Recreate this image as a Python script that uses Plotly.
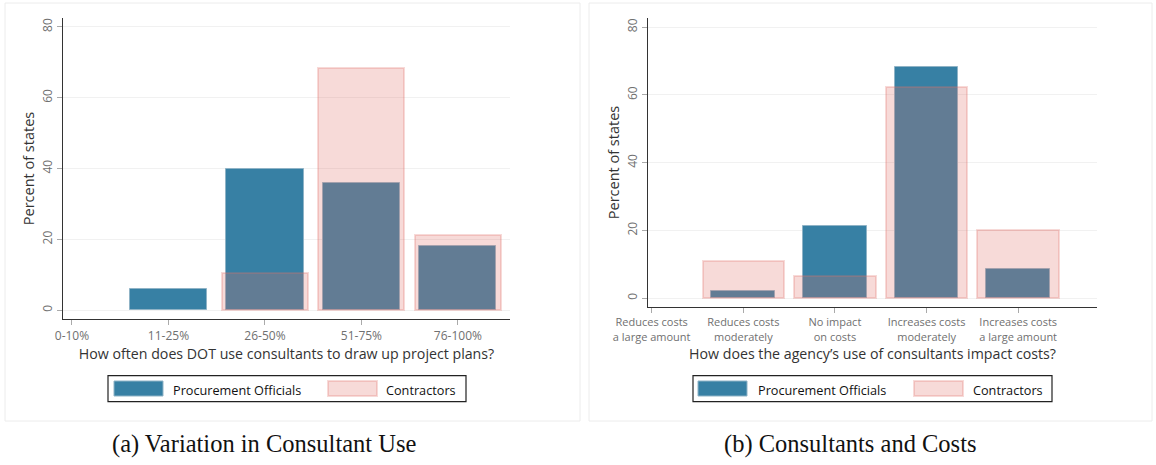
import plotly.graph_objects as go

# ---------------- data ----------------
use_categories = ["0-10%", "11-25%", "26-50%", "51-75%", "76-100%"]
use_officials = [0, 6, 40, 36, 18]
use_contractors = [0, 0, 10.5, 68.4, 21.1]

cost_categories = ["Reduces costs<br>a large amount", "Reduces costs<br>moderately",
                   "No impact<br>on costs", "Increases costs<br>moderately",
                   "Increases costs<br>a large amount"]
cost_officials = [0, 2.1, 21.3, 68.1, 8.5]
cost_contractors = [0, 11.0, 6.6, 62.2, 20.0]

y_ticks = [0, 20, 40, 60, 80]
series_names = ["Procurement Officials", "Contractors"]
captions = ["(a) Variation in Consultant Use", "(b) Consultants and Costs"]
x_titles = ["How often does DOT use consultants to draw up project plans?",
            "How does the agency’s use of consultants impact costs?"]

# ---------------- style ----------------
W, H = 1156, 465
BLUE = "#3780a4"
BLUE_EDGE = "#8fb3c6"
PINK = "rgba(224,113,105,0.26)"
FONT = "Open Sans"
TICK_C = "#707070"
TITLE_C = "#333333"


def px(x):
    return x / W


def py(y):
    return 1 - y / H


def edge(vals, w):
    return [w if v > 0 else 0 for v in vals]


fig = go.Figure()

xs = list(range(len(use_categories)))
fig.add_trace(go.Bar(x=xs, y=use_officials, width=0.8, name=series_names[0],
                     marker=dict(color=BLUE, line=dict(color=BLUE_EDGE, width=edge(use_officials, 1))),
                     xaxis="x", yaxis="y", showlegend=False))
fig.add_trace(go.Bar(x=xs, y=use_contractors, width=0.89, name=series_names[1],
                     marker=dict(color=PINK, line=dict(color=PINK, width=edge(use_contractors, 2))),
                     xaxis="x", yaxis="y", showlegend=False))
xs2 = list(range(len(cost_categories)))
fig.add_trace(go.Bar(x=xs2, y=cost_officials, width=0.695, name=series_names[0],
                     marker=dict(color=BLUE, line=dict(color=BLUE_EDGE, width=edge(cost_officials, 1))),
                     xaxis="x2", yaxis="y2", showlegend=False))
fig.add_trace(go.Bar(x=xs2, y=cost_contractors, width=0.89, name=series_names[1],
                     marker=dict(color=PINK, line=dict(color=PINK, width=edge(cost_contractors, 2))),
                     xaxis="x2", yaxis="y2", showlegend=False))

common_x = dict(showline=True, linecolor="#333333", linewidth=1.3, ticks="outside",
                ticklen=5, tickcolor="#aaaaaa", showgrid=False, zeroline=False,
                automargin=False,
                title_font=dict(family=FONT, size=14.2, color=TITLE_C))
common_y = dict(showline=True, linecolor="#333333", linewidth=1.3, ticks="outside",
                ticklen=5, tickcolor="#aaaaaa", showgrid=True, gridcolor="#f1f1f1",
                zeroline=False, tickvals=y_ticks, tickangle=-90, automargin=False,
                tickfont=dict(family=FONT, size=12, color=TICK_C),
                title=dict(text="Percent of states", standoff=0,
                           font=dict(family=FONT, size=14.5, color=TITLE_C)))

fig.update_layout(
    width=W, height=H, autosize=False,
    margin=dict(l=0, r=0, t=0, b=0, autoexpand=False),
    paper_bgcolor="white", plot_bgcolor="white",
    barmode="overlay", bargap=0,
    xaxis=dict(domain=[px(63), px(510)], range=[-0.093, 4.54], tickvals=xs,
               ticktext=use_categories, title=dict(text=x_titles[0], standoff=2),
               tickfont=dict(family=FONT, size=12, color=TICK_C),
               anchor="y", **common_x),
    yaxis=dict(domain=[py(319), py(18)], range=[-2.5, 82.5], anchor="x", **common_y),
    xaxis2=dict(domain=[px(648), px(1097)], range=[-0.04, 4.86], tickvals=xs2,
                ticktext=cost_categories, title=dict(text=x_titles[1], standoff=0),
                tickfont=dict(family=FONT, size=11, color=TICK_C),
                anchor="y2", **common_x),
    yaxis2=dict(domain=[py(307), py(18)], range=[-2.6, 82.7], anchor="x2", **common_y),
)

shapes = []
annotations = []
for (x0, x1) in [(5, 580), (589, 1152)]:
    shapes.append(dict(type="rect", xref="paper", yref="paper", x0=px(x0), x1=px(x1),
                       y0=py(421), y1=py(3), line=dict(color="#ececec", width=1),
                       fillcolor="rgba(0,0,0,0)", layer="below"))

legends = [
    dict(box=(108, 466), sw1=(114, 163), t1=171, sw2=(328, 377), t2=384),
    dict(box=(693, 1052), sw1=(698, 747), t1=756, sw2=(914, 963), t2=971),
]
for lg in legends:
    shapes.append(dict(type="rect", xref="paper", yref="paper", x0=px(lg["box"][0]),
                       x1=px(lg["box"][1]), y0=py(401.7), y1=py(375.7),
                       line=dict(color="#222222", width=1.2), fillcolor="white"))
    shapes.append(dict(type="rect", xref="paper", yref="paper", x0=px(lg["sw1"][0]),
                       x1=px(lg["sw1"][1]), y0=py(396), y1=py(381),
                       line=dict(color=BLUE_EDGE, width=1), fillcolor=BLUE))
    shapes.append(dict(type="rect", xref="paper", yref="paper", x0=px(lg["sw2"][0]),
                       x1=px(lg["sw2"][1]), y0=py(396), y1=py(381),
                       line=dict(color=PINK, width=2), fillcolor=PINK))
    for tx, name in [(lg["t1"], series_names[0]), (lg["t2"], series_names[1])]:
        annotations.append(dict(x=px(tx), y=py(389.5), xref="paper", yref="paper",
                                text=name, showarrow=False, xanchor="left",
                                yanchor="middle",
                                font=dict(family=FONT, size=12.7, color="#111111")))

for cx, cap in [(264, captions[0]), (850, captions[1])]:
    annotations.append(dict(x=px(cx), y=py(444), xref="paper", yref="paper", text=cap,
                            showarrow=False, xanchor="center", yanchor="middle",
                            font=dict(family="Liberation Serif", size=24.5,
                                      color="#111111")))

fig.update_layout(shapes=shapes, annotations=annotations)
fig.write_html("out.html", config={"displayModeBar": False},
               post_script="document.body.style.margin='0';document.body.style.padding='0';")
